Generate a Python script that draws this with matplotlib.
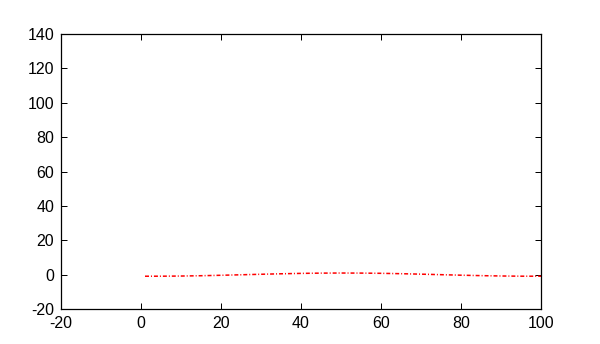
import matplotlib
matplotlib.use("Agg")
import matplotlib.pyplot as plt

# values
x = [1, 5, 10, 15, 20, 25, 30, 35, 40, 45, 50,
     55, 60, 65, 70, 75, 80, 85, 90, 95, 100]
y = [-0.93, -0.92, -0.82, -0.64, -0.38, -0.09, 0.21, 0.49, 0.72, 0.87, 0.93,
     0.89, 0.76, 0.54, 0.27, -0.03, -0.33, -0.59, -0.79, -0.91, -0.93]

xticks = [-20, 0, 20, 40, 60, 80, 100]
yticks = [-20, 0, 20, 40, 60, 80, 100, 120, 140]

plt.rcParams["font.family"] = ["Liberation Sans", "DejaVu Sans"]
plt.rcParams["axes.unicode_minus"] = False
plt.rcParams["path.simplify"] = False

fig = plt.figure(figsize=(6, 3.44), dpi=100)
ax = fig.add_axes([61 / 600, 1 - 309 / 344, 480 / 600, 275 / 344])

ax.plot(x, y, color="#ff0000", lw=1.1, linestyle=(0, (2.6, 1.3, 0.65, 1.3)),
        antialiased=True, solid_capstyle="butt", dash_capstyle="butt")

ax.set_xlim(-20, 100)
ax.set_ylim(-20, 140)
ax.set_xticks(xticks)
ax.set_yticks(yticks)
ax.tick_params(direction="in", length=4, width=0.72, labelsize=11.5, pad=5,
               top=True, right=True)
for s in ax.spines.values():
    s.set_linewidth(0.9)

fig.savefig("out.png", dpi=100)
